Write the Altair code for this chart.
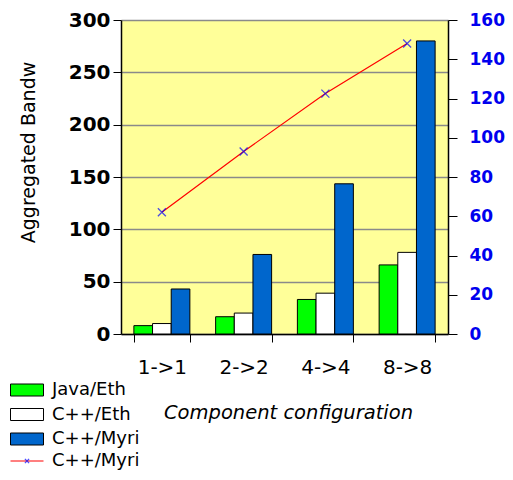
import altair as alt
import pandas as pd

configs = ["1->1", "2->2", "4->4", "8->8"]
series = ["Java/Eth", "C++/Eth", "C++/Myri"]
java_eth = [8, 16.5, 33, 66]
cpp_eth = [10, 20, 39, 78]
cpp_myri = [43, 76, 143.5, 280]
myri_line = [62, 93, 122.5, 148]
bar_colors = ["#00FF00", "#FFFFFF", "#0066CC"]
left_ticks = [0, 50, 100, 150, 200, 250, 300]
right_ticks = [0, 20, 40, 60, 80, 100, 120, 140, 160]

rows = []
for name, vals in zip(series, [java_eth, cpp_eth, cpp_myri]):
    for c, v in zip(configs, vals):
        rows.append({"config": c, "series": name, "value": v})
bar_df = pd.DataFrame(rows)
line_df = pd.DataFrame({"config": configs, "value": myri_line,
                        "line": ["C++/Myri"] * 4, "pt": ["C++/Myri"] * 4})

FONT = "DejaVu Sans"

x_enc = alt.X("config:N", sort=configs,
              scale=alt.Scale(paddingInner=0.315, paddingOuter=0.1575),
              axis=alt.Axis(title="Component configuration", titleFont=FONT,
                            titleFontSize=19.5, titleFontStyle="italic",
                            titleFontWeight="normal", titleColor="black",
                            titleX=167, titleY=78, titleBaseline="middle",
                            labelFont=FONT, labelFontSize=20, labelColor="black",
                            labelAngle=0, labelPadding=15, tickBand="extent",
                            tickSize=8, tickColor="black", domainColor="black",
                            domainWidth=1.5, grid=False))

bars = alt.Chart(bar_df).mark_bar(stroke="black", strokeWidth=1).encode(
    x=x_enc,
    xOffset=alt.XOffset("series:N", sort=series,
                        scale=alt.Scale(domain=series, paddingInner=0, paddingOuter=0)),
    y=alt.Y("value:Q", scale=alt.Scale(domain=[0, 300], nice=False),
            axis=alt.Axis(values=left_ticks, title="Aggregated Bandw",
                          titleFont=FONT, titleFontSize=19, titleFontWeight="normal",
                          titleColor="black", titleX=-93, titleY=132,
                          titleAlign="center", titleBaseline="middle", titleAngle=270,
                          labelFont=FONT, labelFontSize=20, labelFontWeight="bold",
                          labelColor="black", labelPadding=3, tickSize=8,
                          tickColor="black", domainColor="black", domainWidth=1.5,
                          grid=True, gridColor="#8a8a8a", gridWidth=1.5)),
    fill=alt.Fill("series:N", sort=series,
                  scale=alt.Scale(domain=series, range=bar_colors),
                  legend=alt.Legend(title=None, orient="none", legendX=-103, legendY=361,
                                    symbolType="M-2.75,-1L2.75,-1L2.75,1L-2.75,1Z",
                                    symbolSize=144, symbolStrokeColor="black",
                                    symbolStrokeWidth=1, labelFont=FONT,
                                    labelFontSize=18, labelColor="black",
                                    labelOffset=16, rowPadding=6.5, padding=0)),
)

y_right = alt.Y("value:Q", scale=alt.Scale(domain=[0, 160], nice=False),
                axis=alt.Axis(orient="right", values=right_ticks, title=None,
                              labelFont=FONT, labelFontSize=17, labelFontWeight="bold",
                              labelColor="#0000EE", labelPadding=12, tickSize=9,
                              tickColor="black", domainColor="black", domainWidth=1.5,
                              grid=False))

line = alt.Chart(line_df).mark_line(strokeWidth=1.2).encode(
    x=alt.X("config:N", sort=configs),
    y=y_right,
    stroke=alt.Stroke("line:N", scale=alt.Scale(range=["#FF0000"]),
                      legend=alt.Legend(title=None, orient="none", legendX=-103, legendY=432,
                                        symbolType="M-2.75,0L2.75,0", symbolSize=144,
                                        symbolStrokeWidth=1.2, labelFont=FONT,
                                        labelFontSize=18, labelColor="black",
                                        labelOffset=16, padding=0)),
)

points = alt.Chart(line_df).mark_point(shape="M-1,-1L1,1M-1,1L1,-1", filled=False,
                                       size=64, strokeWidth=1.3).encode(
    x=alt.X("config:N", sort=configs),
    y=y_right,
    color=alt.Color("pt:N", scale=alt.Scale(range=["#0000FF"]),
                    legend=alt.Legend(title=None, orient="none", legendX=-103, legendY=432,
                                      symbolType="M-0.35,-0.35L0.35,0.35M-0.35,0.35L0.35,-0.35",
                                      symbolSize=144, symbolStrokeWidth=1.3,
                                      symbolFillColor="transparent",
                                      labelFont=FONT, labelFontSize=18,
                                      labelOpacity=0, labelOffset=16, padding=0)),
)

chart = alt.layer(bars, alt.layer(line, points)).resolve_scale(
    y="independent"
).properties(
    width=327, height=314,
    padding={"left": 113, "top": 12, "right": 57, "bottom": 136},
    autosize=alt.AutoSizeParams(type="none"),
    background="white",
).configure_view(fill="#FFFF99", stroke="transparent")

chart.save("out.html", embed_options={"renderer": "svg", "actions": False})
